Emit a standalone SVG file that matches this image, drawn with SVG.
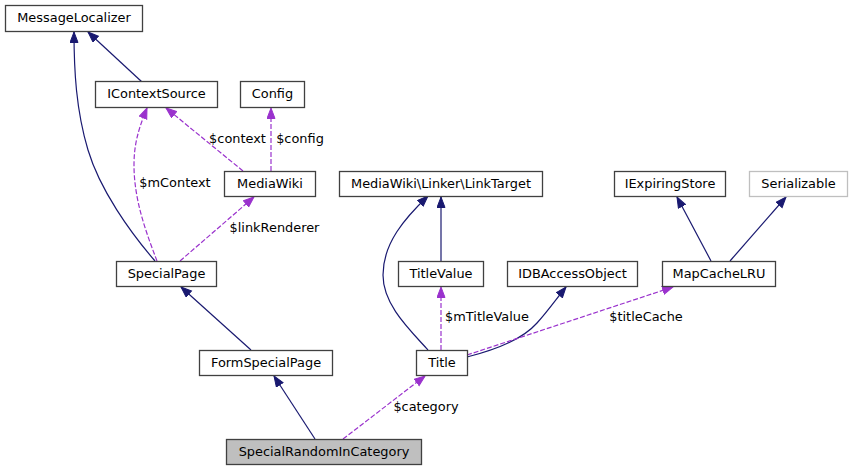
<svg xmlns="http://www.w3.org/2000/svg" width="859" height="471" viewBox="0 0 859 471">
<style>
.n rect{fill:#ffffff;stroke:#404040;stroke-width:1.3}
.n.cur rect{fill:#bfbfbf}
.n.ext rect{stroke:#bfbfbf}
text{font-family:"DejaVu Sans","Liberation Sans",sans-serif;font-size:12.9px;fill:#000000;text-anchor:middle}
.inh{fill:none;stroke:#191970;stroke-width:1.2}
.use{fill:none;stroke:#9a32cd;stroke-width:1.2;stroke-dasharray:5,2}
</style>
<defs>
<marker id="ah" markerUnits="userSpaceOnUse" markerWidth="13" markerHeight="11" refX="11" refY="4.5" orient="auto"><path d="M0.5,0.5 L11,4.5 L0.5,8.5 z" fill="#191970" stroke="#191970" stroke-width="1"/></marker>
<marker id="ap" markerUnits="userSpaceOnUse" markerWidth="13" markerHeight="11" refX="11" refY="4.5" orient="auto"><path d="M0.5,0.5 L11,4.5 L0.5,8.5 z" fill="#9a32cd" stroke="#9a32cd" stroke-width="1"/></marker>
</defs>
<g id="edges">
<path class="inh" marker-end="url(#ah)" d="M155,261 C130,232 100,190 88,150 C76,110 74,70 74,32"/>
<path class="inh" marker-end="url(#ah)" d="M142,82 L88,32"/>
<path class="use" marker-end="url(#ap)" d="M243,171 L166,108"/>
<text x="237.5" y="143">$context</text>
<path class="use" marker-end="url(#ap)" d="M271,171 L271,108"/>
<text x="300" y="143">$config</text>
<path class="use" marker-end="url(#ap)" d="M157,261 C146,232 134,200 134,165 C134,145 138,130 147,108"/>
<text x="175" y="187">$mContext</text>
<path class="use" marker-end="url(#ap)" d="M180,261 L254,197"/>
<text x="274.5" y="232">$linkRenderer</text>
<path class="inh" marker-end="url(#ah)" d="M251,350 L181,287"/>
<path class="inh" marker-end="url(#ah)" d="M315,439 L274,376"/>
<path class="use" marker-end="url(#ap)" d="M343,439 L425,376"/>
<text x="426" y="411">$category</text>
<path class="inh" marker-end="url(#ah)" d="M428,350 C410,330 383,305 383,275 C383,243 405,218 428,196"/>
<path class="inh" marker-end="url(#ah)" d="M441,261 L441,197"/>
<path class="use" marker-end="url(#ap)" d="M441,350 L441,287"/>
<text x="487" y="321">$mTitleValue</text>
<path class="inh" marker-end="url(#ah)" d="M467,357 C495,350 522,340 537,323 C548,311 557,298 566,287"/>
<path class="use" marker-end="url(#ap)" d="M467,355 L673,287"/>
<text x="646" y="321">$titleCache</text>
<path class="inh" marker-end="url(#ah)" d="M711,261 L677,197"/>
<path class="inh" marker-end="url(#ah)" d="M730,261 L786,197"/>
</g>
<g id="MessageLocalizer" class="n"><rect x="5.5" y="5.5" width="137" height="26"/><text x="74" y="22">MessageLocalizer</text></g>
<g id="IContextSource" class="n"><rect x="95.5" y="81.5" width="122" height="26"/><text x="156.5" y="98">IContextSource</text></g>
<g id="Config" class="n"><rect x="240.5" y="81.5" width="64" height="26"/><text x="272.5" y="98">Config</text></g>
<g id="MediaWiki" class="n"><rect x="224.5" y="171.5" width="91" height="25"/><text x="270" y="187.5">MediaWiki</text></g>
<g id="LinkTarget" class="n"><rect x="339.5" y="171.5" width="203" height="25"/><text x="441" y="187.5">MediaWiki\Linker\LinkTarget</text></g>
<g id="IExpiringStore" class="n"><rect x="614.5" y="171.5" width="111" height="25"/><text x="670" y="187.5">IExpiringStore</text></g>
<g id="Serializable" class="n ext"><rect x="749.5" y="171.5" width="98" height="25"/><text x="798.5" y="187.5">Serializable</text></g>
<g id="SpecialPage" class="n"><rect x="116.5" y="261.5" width="100" height="25"/><text x="166.5" y="277.5">SpecialPage</text></g>
<g id="TitleValue" class="n"><rect x="398.5" y="261.5" width="85" height="25"/><text x="441" y="277.5">TitleValue</text></g>
<g id="IDBAccessObject" class="n"><rect x="507.5" y="261.5" width="130" height="25"/><text x="572.5" y="277.5">IDBAccessObject</text></g>
<g id="MapCacheLRU" class="n"><rect x="662.5" y="261.5" width="113" height="25"/><text x="719" y="277.5">MapCacheLRU</text></g>
<g id="FormSpecialPage" class="n"><rect x="199.5" y="350.5" width="133" height="25"/><text x="266" y="366.5">FormSpecialPage</text></g>
<g id="Title" class="n"><rect x="416.5" y="350.5" width="51" height="25"/><text x="442" y="366.5">Title</text></g>
<g id="SpecialRandomInCategory" class="n cur"><rect x="226.5" y="439.5" width="195" height="25"/><text x="324" y="455.5">SpecialRandomInCategory</text></g>
</svg>
